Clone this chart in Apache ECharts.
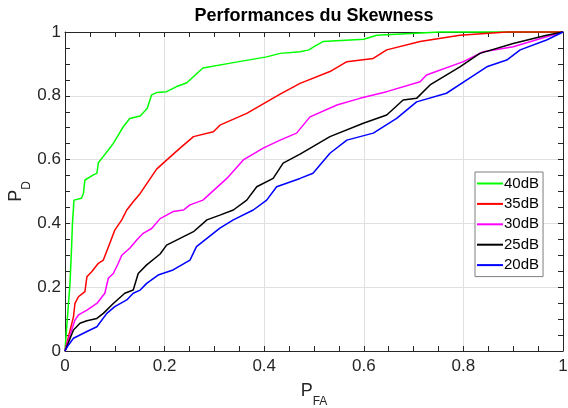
<!DOCTYPE html>
<html>
<head>
<meta charset="utf-8">
<script src="https://cdn.jsdelivr.net/npm/echarts@6/dist/echarts.min.js"></script>
<style>
  html, body { margin: 0; padding: 0; background: #fff; }
  #roc { width: 568px; height: 408px; }
</style>
</head>
<body>
<div id="roc"></div>
<script>
// courbes ROC (P_FA, P_D)
const names = ['40dB', '35dB', '30dB', '25dB', '20dB'];
const colors = ['#00ff00', '#ff0000', '#ff00ff', '#000000', '#0000ff'];

const pfa40 = [0, 0.003, 0.01, 0.013, 0.015, 0.018, 0.033, 0.037, 0.04, 0.057, 0.064, 0.067, 0.077, 0.087, 0.097, 0.107, 0.117, 0.13, 0.151, 0.165, 0.174, 0.184, 0.204, 0.224, 0.244, 0.277, 0.338, 0.405, 0.432, 0.472, 0.49, 0.5, 0.518, 0.6, 0.626, 0.753, 1];
const pd40  = [0, 0.066, 0.212, 0.317, 0.4, 0.473, 0.479, 0.494, 0.536, 0.552, 0.557, 0.59, 0.61, 0.63, 0.651, 0.677, 0.703, 0.729, 0.737, 0.76, 0.803, 0.81, 0.813, 0.829, 0.84, 0.887, 0.904, 0.922, 0.933, 0.938, 0.944, 0.954, 0.97, 0.977, 0.99, 1, 1];

const pfa35 = [0, 0.007, 0.017, 0.02, 0.027, 0.04, 0.044, 0.054, 0.067, 0.077, 0.09, 0.1, 0.114, 0.124, 0.137, 0.151, 0.167, 0.184, 0.2, 0.231, 0.258, 0.298, 0.311, 0.365, 0.405, 0.432, 0.472, 0.532, 0.566, 0.619, 0.646, 0.713, 0.793, 0.887, 1];
const pd35  = [0, 0.045, 0.107, 0.149, 0.17, 0.186, 0.233, 0.249, 0.275, 0.285, 0.338, 0.379, 0.411, 0.442, 0.468, 0.494, 0.531, 0.57, 0.593, 0.636, 0.672, 0.687, 0.708, 0.745, 0.781, 0.805, 0.839, 0.876, 0.907, 0.917, 0.944, 0.97, 0.99, 1, 1];

const pfa30 = [0, 0.01, 0.02, 0.027, 0.044, 0.064, 0.08, 0.087, 0.097, 0.107, 0.114, 0.13, 0.144, 0.157, 0.174, 0.191, 0.217, 0.238, 0.251, 0.277, 0.325, 0.358, 0.398, 0.432, 0.465, 0.492, 0.546, 0.592, 0.646, 0.713, 0.726, 0.8, 0.84, 0.9, 0.967, 1];
const pd30  = [0, 0.05, 0.097, 0.113, 0.128, 0.149, 0.181, 0.228, 0.243, 0.275, 0.3, 0.322, 0.348, 0.369, 0.384, 0.415, 0.437, 0.442, 0.458, 0.473, 0.541, 0.599, 0.636, 0.661, 0.683, 0.734, 0.771, 0.792, 0.813, 0.844, 0.865, 0.907, 0.938, 0.954, 0.985, 1];

const pfa25 = [0, 0.017, 0.03, 0.044, 0.064, 0.077, 0.097, 0.12, 0.137, 0.147, 0.164, 0.191, 0.204, 0.231, 0.258, 0.285, 0.311, 0.338, 0.365, 0.385, 0.418, 0.438, 0.472, 0.532, 0.599, 0.646, 0.679, 0.706, 0.733, 0.793, 0.833, 0.9, 0.967, 1];
const pd25  = [0, 0.066, 0.087, 0.095, 0.102, 0.118, 0.149, 0.181, 0.191, 0.243, 0.27, 0.304, 0.332, 0.353, 0.374, 0.411, 0.426, 0.442, 0.473, 0.515, 0.541, 0.589, 0.617, 0.672, 0.714, 0.74, 0.787, 0.792, 0.834, 0.891, 0.933, 0.964, 0.99, 1];

const pfa20 = [0, 0.007, 0.017, 0.044, 0.064, 0.084, 0.1, 0.124, 0.137, 0.151, 0.164, 0.187, 0.217, 0.251, 0.264, 0.285, 0.311, 0.338, 0.378, 0.405, 0.425, 0.472, 0.498, 0.532, 0.566, 0.619, 0.666, 0.706, 0.766, 0.807, 0.847, 0.887, 0.914, 0.967, 1];
const pd20  = [0, 0.019, 0.04, 0.061, 0.076, 0.118, 0.139, 0.16, 0.181, 0.191, 0.212, 0.238, 0.254, 0.285, 0.327, 0.353, 0.385, 0.411, 0.442, 0.473, 0.515, 0.541, 0.557, 0.62, 0.661, 0.683, 0.729, 0.781, 0.808, 0.85, 0.891, 0.912, 0.944, 0.975, 1];

const curves = [[pfa40, pd40], [pfa35, pd35], [pfa30, pd30], [pfa25, pd25], [pfa20, pd20]];

const font = '"Liberation Sans", Arial, Helvetica, sans-serif';
const axisColor = '#262626';

function zip(xs, ys) {
    return xs.map((x, i) => [x, ys[i]]);
}

function makeAxis(pos, isX) {
    const main = pos === 'bottom' || pos === 'left';
    return {
        type: 'value',
        position: pos,
        min: 0,
        max: 1,
        interval: 0.2,
        axisLine: { show: true, onZero: false, lineStyle: { color: axisColor, width: 1 } },
        axisTick: { show: true, inside: true, length: 5, lineStyle: { color: axisColor } },
        minorTick: { show: true, splitNumber: 4, length: 5, lineStyle: { color: axisColor } },
        minorSplitLine: { show: false },
        splitLine: { show: main, lineStyle: { color: '#e0e0e0', width: 1 } },
        axisLabel: {
            show: main,
            color: axisColor,
            fontFamily: font,
            fontSize: 17,
            margin: isX ? 7 : 4,
            formatter: v => String(+v.toFixed(1))
        }
    };
}

const subRich = {
    p: { fontSize: 18, color: axisColor, fontFamily: font, verticalAlign: 'top' },
    s: { fontSize: 12, color: axisColor, fontFamily: font, verticalAlign: 'bottom', padding: [14, 0, 0, 0] }
};

const xMain = makeAxis('bottom', true);
xMain.name = '{p|P}{s|FA}';
xMain.nameLocation = 'middle';
xMain.nameGap = 31;
xMain.nameMoveOverlap = false;
xMain.nameTextStyle = { rich: subRich };

const yMain = makeAxis('left', false);
yMain.name = '{p|P}{s|D}';
yMain.nameLocation = 'middle';
yMain.nameGap = 32;
yMain.nameMoveOverlap = false;
yMain.nameTextStyle = { rich: subRich };

const chart = echarts.init(document.getElementById('roc'));
chart.setOption({
    animation: false,
    backgroundColor: '#fff',
    title: {
        text: 'Performances du Skewness',
        left: 314,
        textAlign: 'center',
        top: 7,
        padding: 0,
        textStyle: { fontFamily: font, fontSize: 18, fontWeight: 'bold', color: '#000' }
    },
    grid: { left: 65, right: 5, top: 32, bottom: 57, containLabel: false, outerBoundsMode: 'none' },
    legend: {
        orient: 'vertical',
        left: 475,
        top: 172,
        padding: [4, 4, 4, 2],
        itemWidth: 26,
        itemHeight: 2,
        itemGap: 5.4,
        borderColor: '#7f7f7f',
        borderWidth: 1,
        backgroundColor: '#fff',
        textStyle: { fontFamily: font, fontSize: 15, lineHeight: 14, color: '#000', padding: [0, 0, 0, -4] },
        data: names.map(n => ({ name: n, icon: 'rect' }))
    },
    xAxis: [xMain, makeAxis('top', true)],
    yAxis: [yMain, makeAxis('right', false)],
    series: curves.map((c, i) => ({
        name: names[i],
        type: 'line',
        xAxisIndex: 0,
        yAxisIndex: 0,
        data: zip(c[0], c[1]),
        symbol: 'none',
        showSymbol: false,
        clip: false,
        lineStyle: { color: colors[i], width: 1.5 },
        itemStyle: { color: colors[i] },
        z: 2 + i
    }))
});
</script>
</body>
</html>
